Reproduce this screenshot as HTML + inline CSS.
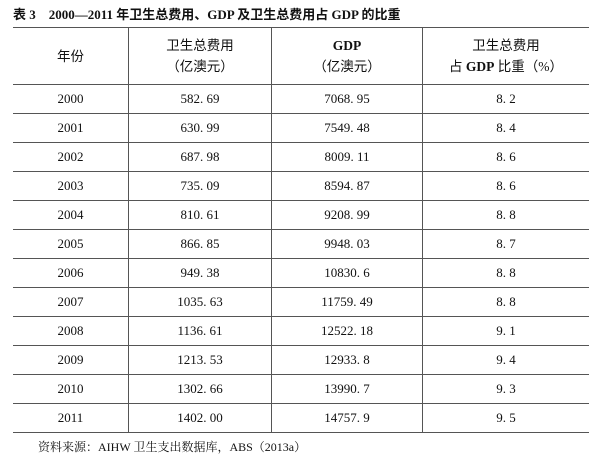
<!DOCTYPE html>
<html><head><meta charset="utf-8"><style>
body{margin:0;width:600px;height:465px;background:#fff;font-family:"Liberation Serif","Noto Serif CJK SC",serif;color:#111;position:relative;overflow:hidden}
.t{position:absolute;left:13px;top:4px;font-size:13px;font-weight:bold;font-family:"Liberation Serif","Noto Sans CJK SC",serif;white-space:nowrap}
table{position:absolute;left:13px;top:27px;width:576px;border-collapse:collapse;font-size:13px}
td{text-align:center;height:28px;padding:0;border-bottom:1px solid #555}
td+td{border-left:1.5px solid #555}
tr:first-child td{height:56px;line-height:21px;border-bottom:1.5px solid #555;font-family:"Liberation Serif","Noto Sans CJK SC",serif;font-size:13.5px}
table{border-top:1.5px solid #555;border-bottom:1.5px solid #555}
.c1{width:115px}.c2{width:142px}.c3{width:150px}
.f{position:absolute;left:38px;top:438px;font-size:12px}
b{font-family:"Liberation Serif",serif}
</style></head><body>
<div class="t">表 3　2000—2011 年卫生总费用、GDP 及卫生总费用占 GDP 的比重</div>
<table>
<tr><td class="c1">年份</td><td class="c2">卫生总费用<br>（亿澳元）</td><td class="c3"><b>GDP</b><br>（亿澳元）</td><td>卫生总费用<br>占 <b>GDP</b> 比重（%）</td></tr>
<tr><td>2000</td><td>582. 69</td><td>7068. 95</td><td>8. 2</td></tr>
<tr><td>2001</td><td>630. 99</td><td>7549. 48</td><td>8. 4</td></tr>
<tr><td>2002</td><td>687. 98</td><td>8009. 11</td><td>8. 6</td></tr>
<tr><td>2003</td><td>735. 09</td><td>8594. 87</td><td>8. 6</td></tr>
<tr><td>2004</td><td>810. 61</td><td>9208. 99</td><td>8. 8</td></tr>
<tr><td>2005</td><td>866. 85</td><td>9948. 03</td><td>8. 7</td></tr>
<tr><td>2006</td><td>949. 38</td><td>10830. 6</td><td>8. 8</td></tr>
<tr><td>2007</td><td>1035. 63</td><td>11759. 49</td><td>8. 8</td></tr>
<tr><td>2008</td><td>1136. 61</td><td>12522. 18</td><td>9. 1</td></tr>
<tr><td>2009</td><td>1213. 53</td><td>12933. 8</td><td>9. 4</td></tr>
<tr><td>2010</td><td>1302. 66</td><td>13990. 7</td><td>9. 3</td></tr>
<tr><td>2011</td><td>1402. 00</td><td>14757. 9</td><td>9. 5</td></tr>
</table>
<div class="f">资料来源：AIHW 卫生支出数据库，ABS（2013a）</div>
</body></html>
